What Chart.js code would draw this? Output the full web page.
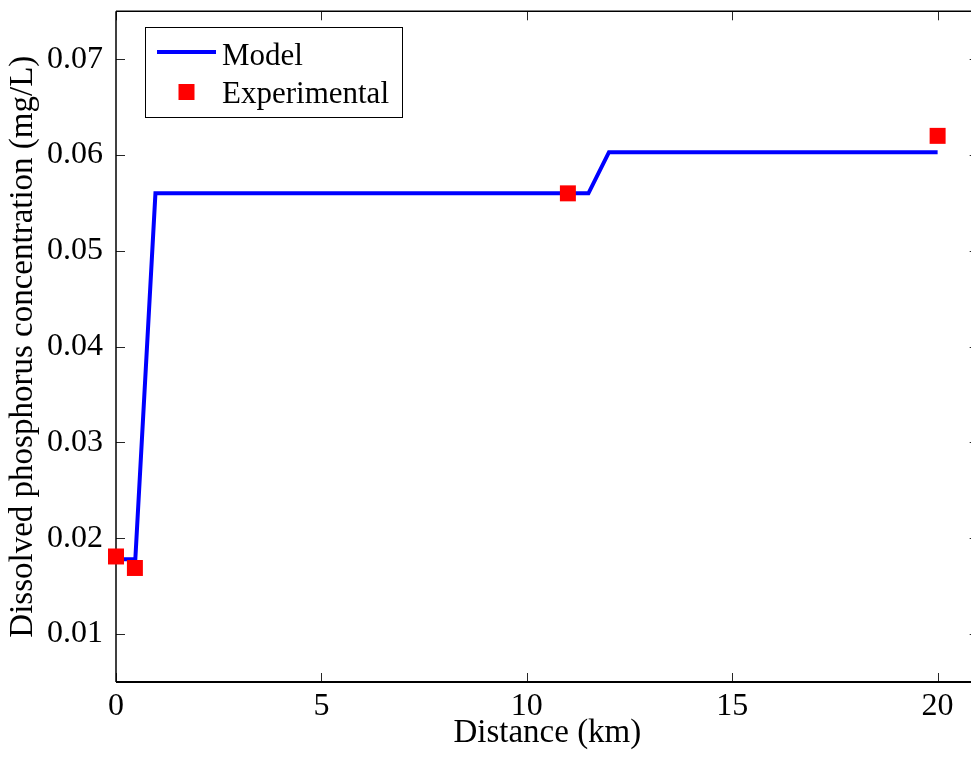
<!DOCTYPE html>
<html>
<head>
<meta charset="utf-8">
<script src="https://cdn.jsdelivr.net/npm/chart.js@4/dist/chart.umd.min.js"></script>
<style>
  html, body { margin: 0; padding: 0; background: #fff; overflow: hidden; }
  #wrap { width: 990px; height: 762px; }
</style>
</head>
<body>
<div id="wrap"><canvas id="c" width="990" height="762"></canvas></div>
<script>
// ---- data ----
const modelX = [0, 0.47, 0.96, 11.5, 12.0, 20];
const modelY = [0.0178, 0.0178, 0.056, 0.056, 0.0603, 0.0603];
const expX = [0, 0.46, 11, 20];
const expY = [0.0181, 0.0169, 0.056, 0.062];
const xTicks = [0, 5, 10, 15, 20];
const xTickLabels = ['0', '5', '10', '15', '20'];
const yTicks = [0.01, 0.02, 0.03, 0.04, 0.05, 0.06, 0.07];
const yTickLabels = ['0.01', '0.02', '0.03', '0.04', '0.05', '0.06', '0.07'];
const seriesNames = ['Model', 'Experimental'];
const xTitle = 'Distance (km)';
const yTitle = 'Dissolved phosphorus concentration (mg/L)';

const FONT = "'Liberation Serif', 'Times New Roman', serif";

const axesPlugin = {
  id: 'matlabAxes',
  beforeDatasetsDraw(chart) {
    const {ctx, chartArea: a} = chart;
    const xs = chart.scales.x, ys = chart.scales.y;
    ctx.save();
    ctx.strokeStyle = '#262626';
    ctx.lineWidth = 1;
    const tl = 9;
    xs.ticks.forEach(t => {
      const px = Math.round(xs.getPixelForValue(t.value)) + 0.5;
      ctx.beginPath();
      ctx.moveTo(px, a.bottom); ctx.lineTo(px, a.bottom - tl);
      ctx.moveTo(px, a.top); ctx.lineTo(px, a.top + tl);
      ctx.stroke();
    });
    ys.ticks.forEach(t => {
      const py = Math.round(ys.getPixelForValue(t.value)) + 0.5;
      ctx.beginPath();
      ctx.moveTo(a.left, py); ctx.lineTo(a.left + tl, py);
      ctx.moveTo(a.right, py); ctx.lineTo(a.right - tl, py);
      ctx.stroke();
    });
    ctx.strokeStyle = '#000';
    ctx.lineWidth = 1.5;
    ctx.beginPath();
    ctx.moveTo(a.left, a.top); ctx.lineTo(a.right, a.top);
    ctx.moveTo(a.right, a.top); ctx.lineTo(a.right, a.bottom);
    ctx.stroke();
    ctx.lineWidth = 2;
    ctx.beginPath();
    ctx.moveTo(a.left, a.bottom); ctx.lineTo(a.right, a.bottom);
    ctx.stroke();
    ctx.lineWidth = 1.5;
    ctx.beginPath();
    ctx.moveTo(a.left, a.top); ctx.lineTo(a.left, a.bottom);
    ctx.stroke();
    ctx.restore();
  },
  afterDraw(chart) {
    const {ctx} = chart;
    const ds = chart.data.datasets;
    ctx.save();
    ctx.strokeStyle = '#000';
    ctx.lineWidth = 1;
    ctx.strokeRect(145.5, 27.5, 257, 90);
    ctx.font = "31px " + FONT;
    ctx.fillStyle = '#000';
    ctx.textBaseline = 'alphabetic';
    ctx.textAlign = 'left';
    ctx.strokeStyle = ds[0].borderColor;
    ctx.lineWidth = ds[0].borderWidth;
    ctx.beginPath();
    ctx.moveTo(157, 52); ctx.lineTo(216, 52);
    ctx.stroke();
    ctx.fillText(ds[0].label, 222, 65);
    ctx.fillStyle = ds[1].backgroundColor;
    ctx.fillRect(178.5, 84, 16, 16);
    ctx.fillStyle = '#000';
    ctx.fillText(ds[1].label, 222, 103);
    ctx.restore();
  }
};

new Chart(document.getElementById('c'), {
  type: 'scatter',
  data: {
    datasets: [
      {
        label: seriesNames[0],
        data: modelX.map((x, i) => ({x, y: modelY[i]})),
        showLine: true,
        borderColor: '#0000ff',
        backgroundColor: '#0000ff',
        borderWidth: 4,
        pointRadius: 0,
        tension: 0,
        clip: false,
        order: 2
      },
      {
        label: seriesNames[1],
        data: expX.map((x, i) => ({x, y: expY[i]})),
        showLine: false,
        pointStyle: 'rect',
        pointRadius: 11.3,
        pointBorderWidth: 0,
        backgroundColor: '#ff0000',
        borderColor: '#ff0000',
        clip: false,
        order: 1
      }
    ]
  },
  plugins: [axesPlugin],
  options: {
    responsive: false,
    animation: false,
    devicePixelRatio: 1,
    layout: { padding: { left: 0, top: 7, right: 11, bottom: 0 } },
    plugins: { legend: { display: false }, tooltip: { enabled: false } },
    scales: {
      x: {
        type: 'linear',
        min: 0, max: 21,
        grid: { display: false },
        border: { display: false },
        afterBuildTicks: s => { s.ticks = xTicks.map(v => ({value: v})); },
        afterFit: s => { s.height = 80; s.paddingLeft = 0; s.paddingRight = 0; },
        ticks: {
          autoSkip: false, maxRotation: 0, padding: -3,
          color: '#000',
          font: { family: FONT, size: 32, lineHeight: 1.2 },
          callback: (v, i) => xTickLabels[i]
        },
        title: {
          display: true, text: xTitle, color: '#000',
          font: { family: FONT, size: 33, lineHeight: 1.2 },
          padding: { top: 0, bottom: 9 }
        }
      },
      y: {
        type: 'linear',
        min: 0.005, max: 0.075,
        grid: { display: false },
        border: { display: false },
        afterBuildTicks: s => { s.ticks = yTicks.map(v => ({value: v})); },
        afterFit: s => { s.width = 116; s.paddingTop = 0; s.paddingBottom = 0; },
        ticks: {
          autoSkip: false, padding: 5,
          color: '#000',
          font: { family: FONT, size: 32, lineHeight: 1.2 },
          callback: (v, i) => yTickLabels[i]
        },
        title: {
          display: true, text: yTitle, color: '#000',
          font: { family: FONT, size: 33, lineHeight: 1.2 },
          padding: { top: 4, bottom: 0 }
        }
      }
    }
  }
});
</script>
</body>
</html>
